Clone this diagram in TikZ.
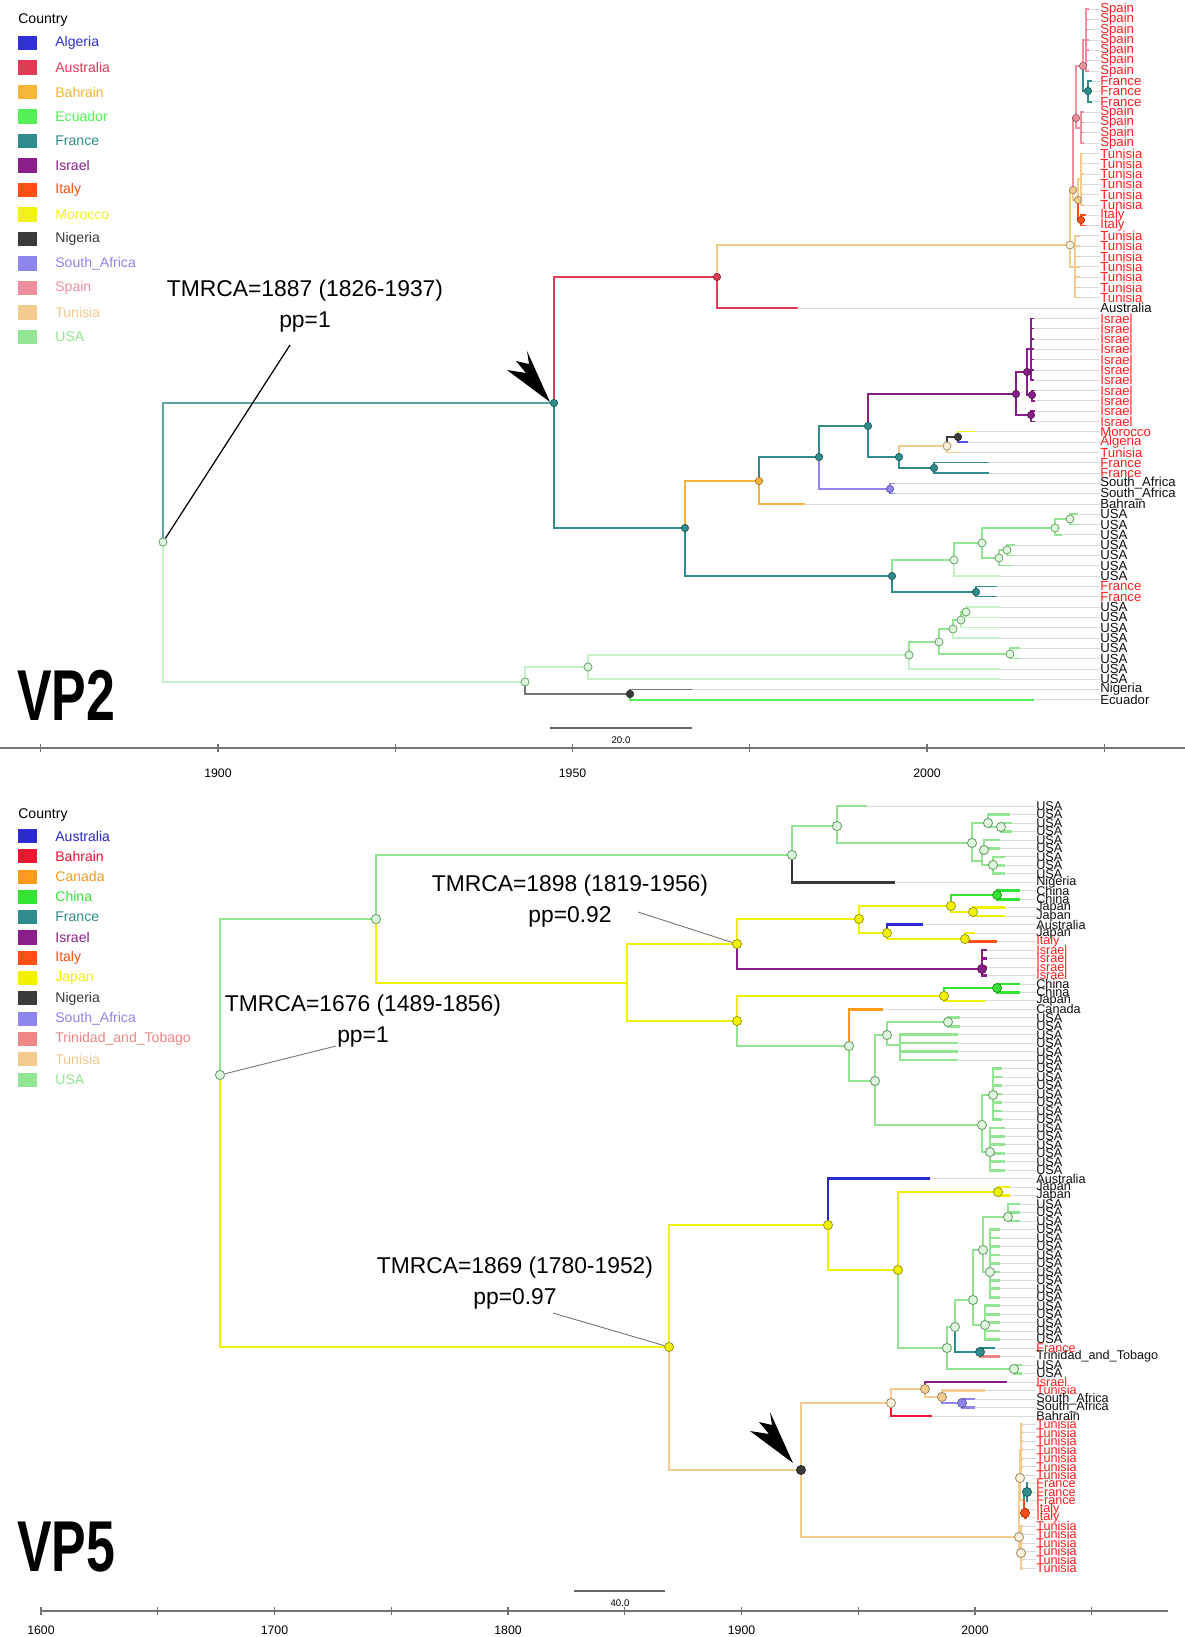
\documentclass[tikz,border=0pt]{standalone}
\usepackage{fontspec}
\setmainfont{Liberation Sans}
\usetikzlibrary{calc}

\definecolor{cUSA}{HTML}{92E592}
\definecolor{cUSAp}{HTML}{C4F2C4}
\definecolor{cFra}{HTML}{2F8C8C}
\definecolor{cAus}{HTML}{E23A55}
\definecolor{cTun}{HTML}{F3CB8E}
\definecolor{cSpa}{HTML}{EE8FA0}
\definecolor{cIsr}{HTML}{8A1E8A}
\definecolor{cIta}{HTML}{FF4F14}
\definecolor{cMor}{HTML}{F2F21A}
\definecolor{cNig}{HTML}{3A3A3A}
\definecolor{cSAf}{HTML}{8F85EE}
\definecolor{cBah}{HTML}{F7B53A}
\definecolor{cAlg}{HTML}{3030D8}
\definecolor{cEcu}{HTML}{55F055}
\definecolor{cJap}{HTML}{F2F200}
\definecolor{cChi}{HTML}{33E533}
\definecolor{cCan}{HTML}{FF9A1A}
\definecolor{cAusB}{HTML}{2A2AD0}
\definecolor{cBahB}{HTML}{EE1530}
\definecolor{cTri}{HTML}{F08585}
\definecolor{lr}{HTML}{FF1F1F}
\definecolor{lk}{HTML}{111111}

\newcommand{\br}[3]{\draw[#1] (#2) |- (#3);}
\newcommand{\tipa}[4]{%
  \coordinate (ae#3) at (#4,{ya(#3)});
  \draw[tipln] (ae#3) -- (at#3.west);
  \draw[brA=#1] (#2) |- (ae#3);}
\newcommand{\tipb}[4]{%
  \coordinate (be#3) at (#4,{yb(#3)});
  \draw[tipln] (be#3) -- (bt#3.west);
  \draw[brB=#1] (#2) |- (be#3);}
\newcommand{\comba}[5]{\foreach \i in {#3,...,#4} {\tipa{#1}{#2}{\i}{#5}}}
\newcommand{\combb}[5]{\foreach \i in {#3,...,#4} {\tipb{#1}{#2}{\i}{#5}}}
\newcommand{\labsa}[4]{\foreach \i in {#1,...,#2} {\node[tla,text=#4] (at\i) at (1100,{ya(\i)}) {#3};}}
\newcommand{\labsb}[4]{\foreach \i in {#1,...,#2} {\node[tlb,text=#4] (bt\i) at (1036,{yb(\i)}) {#3};}}
\newcommand{\arrowhd}[1]{\fill[black] (#1) -- +(-43,-32) -- +(-24,-29) -- +(-34,-41) -- +(-21,-38) -- +(-23,-51) -- cycle;}

\begin{document}
\begin{tikzpicture}[x=0.02cm,y=-0.02cm,
    declare function={ya(\k)=9+\k*10.31; yb(\k)=806+\k*8.47;},
    brA/.style={draw=#1,line width=0.85pt},
    brB/.style={draw=#1,line width=1.5pt},
    tipln/.style={draw=black!14,line width=0.4pt},
    mk/.style={circle,draw=#1!60!black,fill=#1,line width=0.35pt,inner sep=0pt,minimum size=4.2pt},
    mko/.style={circle,draw=#1!70!black,fill=#1!30,line width=0.45pt,inner sep=0pt,minimum size=4.6pt},
    mkb/.style={circle,draw=#1!60!black,fill=#1,line width=0.4pt,inner sep=0pt,minimum size=5.2pt},
    mkbo/.style={circle,draw=#1!70!black,fill=#1!30,line width=0.5pt,inner sep=0pt,minimum size=5.2pt},
    tla/.style={anchor=west,inner sep=0pt,font=\fontsize{7.5}{7.5}\selectfont},
    tlb/.style={anchor=west,inner sep=0pt,font=\fontsize{7.2}{7.2}\selectfont},
    lgbox/.style={fill=#1,inner sep=0pt,minimum width=10.8pt,minimum height=8pt},
    lgtxt/.style={anchor=west,inner sep=0pt,font=\fontsize{8}{8}\selectfont},
    note/.style={align=center,inner sep=0pt,font=\fontsize{13}{18}\selectfont},
    panel/.style={anchor=base west,inner sep=0pt,font=\bfseries\fontsize{41}{41}\selectfont},
    axl/.style={draw=black!55,line width=1.2pt},
    axlab/.style={inner sep=0pt,font=\fontsize{7}{7}\selectfont},
    scl/.style={draw=black!60,line width=0.9pt},
    leadA/.style={draw=black,line width=0.7pt},
    leadB/.style={draw=black!55,line width=0.5pt}]

\fill[white] (0,0) rectangle (1185,1637);
\useasboundingbox (0,0) rectangle (1185,1637);

% legends
\node[lgtxt] (lgA) at (18,20) {Country};
\foreach \lab/\c [count=\i from 0] in {Algeria/cAlg,Australia/cAus,Bahrain/cBah,Ecuador/cEcu,France/cFra,Israel/cIsr,Italy/cIta,Morocco/cMor,Nigeria/cNig,South\_Africa/cSAf,Spain/cSpa,Tunisia/cTun,USA/cUSA}
{
  \node[lgbox=\c] (lbA\i) at (27.5,{43+\i*24.5}) {};
  \node[lgtxt,text=\c] (ltA\i) at (55,{43+\i*24.5}) {\lab};
}
\node[lgtxt] (lgB) at (18,815) {Country};
\foreach \lab/\c [count=\i from 0] in {Australia/cAusB,Bahrain/cBahB,Canada/cCan,China/cChi,France/cFra,Israel/cIsr,Italy/cIta,Japan/cJap,Nigeria/cNig,South\_Africa/cSAf,Trinidad\_and\_Tobago/cTri,Tunisia/cTun,USA/cUSA}
{
  \node[lgbox=\c] (lbB\i) at (27.5,{836+\i*20.3}) {};
  \node[lgtxt,text=\c] (ltB\i) at (55,{836+\i*20.3}) {\lab};
}

% VP2 tip labels
\labsa{0}{6}{Spain}{lr}
\labsa{7}{9}{France}{lr}
\labsa{10}{13}{Spain}{lr}
\labsa{14}{19}{Tunisia}{lr}
\labsa{20}{21}{Italy}{lr}
\labsa{22}{28}{Tunisia}{lr}
\labsa{29}{29}{Australia}{lk}
\labsa{30}{40}{Israel}{lr}
\labsa{41}{41}{Morocco}{lr}
\labsa{42}{42}{Algeria}{lr}
\labsa{43}{43}{Tunisia}{lr}
\labsa{44}{45}{France}{lr}
\labsa{46}{47}{South\_Africa}{lk}
\labsa{48}{48}{Bahrain}{lk}
\labsa{49}{55}{USA}{lk}
\labsa{56}{57}{France}{lr}
\labsa{58}{65}{USA}{lk}
\labsa{66}{66}{Nigeria}{lk}
\labsa{67}{67}{Ecuador}{lk}

% VP5 tip labels
\labsb{0}{8}{USA}{lk}
\labsb{9}{9}{Nigeria}{lk}
\labsb{10}{11}{China}{lk}
\labsb{12}{13}{Japan}{lk}
\labsb{14}{14}{Australia}{lk}
\labsb{15}{15}{Japan}{lk}
\labsb{16}{16}{Italy}{lr}
\labsb{17}{20}{Israel}{lr}
\labsb{21}{22}{China}{lk}
\labsb{23}{23}{Japan}{lk}
\labsb{24}{24}{Canada}{lk}
\labsb{25}{43}{USA}{lk}
\labsb{44}{44}{Australia}{lk}
\labsb{45}{46}{Japan}{lk}
\labsb{47}{63}{USA}{lk}
\labsb{64}{64}{France}{lr}
\labsb{65}{65}{Trinidad\_and\_Tobago}{lk}
\labsb{66}{67}{USA}{lk}
\labsb{68}{68}{Israel}{lr}
\labsb{69}{69}{Tunisia}{lr}
\labsb{70}{71}{South\_Africa}{lk}
\labsb{72}{72}{Bahrain}{lk}
\labsb{73}{79}{Tunisia}{lr}
\labsb{80}{82}{France}{lr}
\labsb{83}{84}{Italy}{lr}
\labsb{85}{90}{Tunisia}{lr}

% VP2 tree
\coordinate (A0) at (163,542);
\coordinate (A1) at (554,403);
\coordinate (A2) at (717,277);
\coordinate (A3) at (1070,245);
\coordinate (A4) at (1073,190);
\coordinate (A5) at (1075,267);
\coordinate (A6) at (1076,118);
\coordinate (A6b) at (1081,128);
\coordinate (A7) at (1078,200);
\coordinate (A7b) at (1081,179);
\coordinate (A8) at (1081,220);
\coordinate (A9) at (1083,66);
\coordinate (A9a) at (1086,40);
\coordinate (A9b) at (1088,91);
\coordinate (A10) at (685,528);
\coordinate (A11) at (759,481);
\coordinate (A12) at (819,457);
\coordinate (A13) at (868,426);
\coordinate (A14) at (890,489);
\coordinate (A15) at (1016,394);
\coordinate (A16) at (899,457);
\coordinate (A17) at (1027,372);
\coordinate (A18) at (1031,415);
\coordinate (A19) at (1031,349);
\coordinate (A19b) at (1032,395);
\coordinate (A20) at (892,576);
\coordinate (A21) at (947,446);
\coordinate (A22) at (934,468);
\coordinate (A23) at (958,437);
\coordinate (A24) at (954,560);
\coordinate (A25) at (976,592);
\coordinate (A26) at (982,543);
\coordinate (A27) at (1055,528);
\coordinate (A28) at (1070,519);
\coordinate (A29) at (999,558);
\coordinate (A30) at (1007,550);
\coordinate (A40) at (525,682);
\coordinate (A41) at (588,667);
\coordinate (A42) at (630,694);
\coordinate (A43) at (909,655);
\coordinate (A44) at (939,642);
\coordinate (A45) at (953,629);
\coordinate (A46) at (1010,654);
\coordinate (A47) at (961,620);
\coordinate (A48) at (966,612);

\br{brA=cFra!80!white}{A0}{A1}
\br{brA=cUSAp}{A0}{A40}
\br{brA=cAus}{A1}{A2}
\br{brA=cFra}{A1}{A10}
\br{brA=cTun}{A2}{A3}
\tipa{cAus}{A2}{29}{798}
\br{brA=cTun}{A3}{A4}
\br{brA=cTun}{A3}{A5}
\comba{cTun}{A5}{22}{28}{1080}
\br{brA=cSpa}{A4}{A6}
\br{brA=cTun}{A4}{A7}
\br{brA=cTun}{A7}{A7b}
\comba{cTun}{A7b}{14}{19}{1084}
\br{brA=cIta}{A7}{A8}
\comba{cIta}{A8}{20}{21}{1086}
\br{brA=cSpa}{A6}{A6b}
\comba{cSpa}{A6b}{10}{13}{1084}
\br{brA=cSpa}{A6}{A9}
\br{brA=cSpa}{A9}{A9a}
\comba{cSpa}{A9a}{0}{6}{1089}
\br{brA=cFra}{A9}{A9b}
\comba{cFra}{A9b}{7}{9}{1092}
\br{brA=cBah}{A10}{A11}
\br{brA=cFra}{A10}{A20}
\br{brA=cFra}{A11}{A12}
\tipa{cBah}{A11}{48}{805}
\br{brA=cFra}{A12}{A13}
\br{brA=cSAf}{A12}{A14}
\comba{cSAf}{A14}{46}{47}{895}
\br{brA=cIsr}{A13}{A15}
\br{brA=cFra}{A13}{A16}
\br{brA=cIsr}{A15}{A17}
\br{brA=cIsr}{A15}{A18}
\comba{cIsr}{A18}{39}{40}{1035}
\br{brA=cIsr}{A17}{A19}
\br{brA=cIsr}{A17}{A19b}
\comba{cIsr}{A19}{30}{36}{1034}
\comba{cIsr}{A19b}{37}{38}{1035}
\br{brA=cTun}{A16}{A21}
\br{brA=cFra}{A16}{A22}
\comba{cFra}{A22}{44}{45}{989}
\br{brA=cNig}{A21}{A23}
\tipa{cTun}{A21}{43}{960}
\tipa{cMor}{A23}{41}{975}
\tipa{cAlg!60!cSAf}{A23}{42}{968}
\br{brA=cUSA}{A20}{A24}
\br{brA=cFra}{A20}{A25}
\comba{cFra}{A25}{56}{57}{997}
\br{brA=cUSA}{A24}{A26}
\tipa{cUSAp}{A24}{55}{1000}
\br{brA=cUSA}{A26}{A27}
\br{brA=cUSA}{A26}{A29}
\br{brA=cUSA}{A27}{A28}
\tipa{cUSA}{A27}{51}{1062}
\comba{cUSA}{A28}{49}{50}{1078}
\br{brA=cUSA}{A29}{A30}
\tipa{cUSA}{A29}{54}{1012}
\comba{cUSA}{A30}{52}{53}{1015}
\br{brA=cUSAp}{A40}{A41}
\br{brA=cNig!70!white}{A40}{A42}
\tipa{cNig!70!white}{A42}{66}{692}
\tipa{cEcu}{A42}{67}{1034}
\br{brA=cUSAp}{A41}{A43}
\tipa{cUSAp}{A41}{65}{1000}
\br{brA=cUSA}{A43}{A44}
\tipa{cUSAp}{A43}{64}{1000}
\br{brA=cUSA}{A44}{A45}
\br{brA=cUSA}{A44}{A46}
\comba{cUSA}{A46}{62}{63}{1020}
\br{brA=cUSA}{A45}{A47}
\tipa{cUSAp}{A45}{61}{1000}
\br{brA=cUSA}{A47}{A48}
\tipa{cUSAp}{A47}{60}{1000}
\comba{cUSAp}{A48}{58}{59}{1000}

\foreach \n/\c in {A1/cFra,A2/cAus,A4/cTun,A6/cSpa,A7/cTun,A8/cIta,A9/cSpa,A9b/cFra,A10/cFra,A11/cBah,A12/cFra,A13/cFra,A14/cSAf,A15/cIsr,A16/cFra,A17/cIsr,A18/cIsr,A19b/cIsr,A20/cFra,A22/cFra,A23/cNig,A25/cFra,A42/cNig}
  \node[mk=\c] (m\n) at (\n) {};
\foreach \n/\c in {A0/cUSA,A3/cTun,A21/cTun,A24/cUSA,A26/cUSA,A27/cUSA,A28/cUSA,A29/cUSA,A30/cUSA,A40/cUSA,A41/cUSA,A43/cUSA,A44/cUSA,A45/cUSA,A46/cUSA,A47/cUSA,A48/cUSA}
  \node[mko=\c] (m\n) at (\n) {};

% VP5 tree
\coordinate (B0) at (220,1075);
\coordinate (BA) at (376,919);
\coordinate (B1) at (669,1347);
\coordinate (B2) at (792,855);
\coordinate (B3) at (627,983);
\coordinate (B4) at (837,826);
\coordinate (B5) at (972,843);
\coordinate (B6) at (988,823);
\coordinate (B6b) at (1001,827);
\coordinate (B7) at (982,861);
\coordinate (B7a) at (984,850);
\coordinate (B7b) at (993,865);
\coordinate (B8) at (737,944);
\coordinate (B9) at (737,1021);
\coordinate (B10) at (859,919);
\coordinate (B11) at (982,969);
\coordinate (B12) at (951,906);
\coordinate (B13) at (887,933);
\coordinate (B14) at (997,895);
\coordinate (B15) at (973,912);
\coordinate (B16) at (965,939);
\coordinate (B17) at (944,996);
\coordinate (B18) at (849,1046);
\coordinate (B19) at (997,988);
\coordinate (B20) at (875,1081);
\coordinate (B21) at (887,1035);
\coordinate (B22) at (982,1125);
\coordinate (B23) at (948,1022);
\coordinate (B24) at (900,1045);
\coordinate (B25) at (993,1095);
\coordinate (B26) at (990,1152);
\coordinate (B30) at (828,1225);
\coordinate (B31) at (898,1270);
\coordinate (B32) at (998,1192);
\coordinate (B33) at (947,1348);
\coordinate (B34) at (955,1327);
\coordinate (B35) at (1014,1369);
\coordinate (B36) at (973,1300);
\coordinate (B37) at (980,1352);
\coordinate (B38) at (983,1250);
\coordinate (B38a) at (1008,1217);
\coordinate (B38b) at (990,1272);
\coordinate (B39) at (985,1325);
\coordinate (B40) at (801,1470);
\coordinate (B41) at (891,1403);
\coordinate (B42) at (1019,1537);
\coordinate (B43) at (925,1389);
\coordinate (B44) at (942,1397);
\coordinate (B45) at (962,1403);
\coordinate (B46) at (1020,1478);
\coordinate (B46a) at (1021,1450);
\coordinate (B47) at (1021,1553);
\coordinate (B48) at (1024,1500);
\coordinate (B48a) at (1027,1492);
\coordinate (B49) at (1025,1513);

\br{brB=cUSA}{B0}{BA}
\br{brB=cJap}{B0}{B1}
\br{brB=cUSA}{BA}{B2}
\br{brB=cJap}{BA}{B3}
\br{brB=cUSA}{B2}{B4}
\tipb{cNig}{B2}{9}{895}
\tipb{cUSA}{B4}{0}{867}
\br{brB=cUSA}{B4}{B5}
\br{brB=cUSA}{B5}{B6}
\tipb{cUSA}{B6}{1}{1010}
\br{brB=cUSA}{B6}{B6b}
\combb{cUSA}{B6b}{2}{3}{1012}
\br{brB=cUSA}{B5}{B7}
\br{brB=cUSA}{B7}{B7a}
\combb{cUSA}{B7a}{4}{5}{1000}
\br{brB=cUSA}{B7}{B7b}
\combb{cUSA}{B7b}{6}{8}{1005}
\br{brB=cJap}{B3}{B8}
\br{brB=cJap}{B3}{B9}
\br{brB=cJap}{B8}{B10}
\br{brB=cIsr}{B8}{B11}
\combb{cIsr}{B11}{17}{20}{987}
\br{brB=cJap}{B10}{B12}
\br{brB=cJap}{B10}{B13}
\br{brB=cChi}{B12}{B14}
\combb{cChi}{B14}{10}{11}{1020}
\br{brB=cJap}{B12}{B15}
\combb{cJap}{B15}{12}{13}{1005}
\tipb{cAusB}{B13}{14}{923}
\br{brB=cJap}{B13}{B16}
\tipb{cJap}{B16}{15}{975}
\tipb{cIta}{B16}{16}{997}
\br{brB=cJap}{B9}{B17}
\br{brB=cUSA}{B9}{B18}
\br{brB=cChi}{B17}{B19}
\combb{cChi}{B19}{21}{22}{1020}
\tipb{cJap}{B17}{23}{985}
\tipb{cCan}{B18}{24}{883}
\br{brB=cUSA}{B18}{B20}
\br{brB=cUSA}{B20}{B21}
\br{brB=cUSA}{B20}{B22}
\br{brB=cUSA}{B21}{B23}
\combb{cUSA}{B23}{25}{26}{960}
\br{brB=cUSA}{B21}{B24}
\combb{cUSA}{B24}{27}{30}{958}
\br{brB=cUSA}{B22}{B25}
\combb{cUSA}{B25}{31}{37}{1002}
\br{brB=cUSA}{B22}{B26}
\combb{cUSA}{B26}{38}{43}{1005}
\br{brB=cJap}{B1}{B30}
\br{brB=cTun}{B1}{B40}
\tipb{cAusB}{B30}{44}{930}
\br{brB=cJap}{B30}{B31}
\br{brB=cJap}{B31}{B32}
\combb{cJap}{B32}{45}{46}{1010}
\br{brB=cUSA}{B31}{B33}
\br{brB=cUSA}{B33}{B34}
\br{brB=cUSA}{B33}{B35}
\combb{cUSA}{B35}{66}{67}{1022}
\br{brB=cUSA}{B34}{B36}
\br{brB=cFra}{B34}{B37}
\tipb{cFra}{B37}{64}{995}
\tipb{cTri}{B37}{65}{1000}
\br{brB=cUSA}{B36}{B38}
\br{brB=cUSA}{B36}{B39}
\br{brB=cUSA}{B38}{B38a}
\combb{cUSA}{B38a}{47}{49}{1020}
\br{brB=cUSA}{B38}{B38b}
\combb{cUSA}{B38b}{50}{58}{1000}
\combb{cUSA}{B39}{59}{63}{1000}
\br{brB=cTun}{B40}{B41}
\br{brB=cTun}{B40}{B42}
\br{brB=cTun}{B41}{B43}
\tipb{cBahB}{B41}{72}{932}
\tipb{cIsr}{B43}{68}{1007}
\br{brB=cTun}{B43}{B44}
\tipb{cTun}{B44}{69}{985}
\br{brB=cSAf}{B44}{B45}
\combb{cSAf}{B45}{70}{71}{975}
\br{brB=cTun}{B42}{B46}
\br{brB=cTun}{B42}{B47}
\br{brB=cTun}{B46}{B46a}
\combb{cTun}{B46a}{73}{79}{1023}
\br{brB=cTun}{B46}{B48}
\br{brB=cFra}{B48}{B48a}
\combb{cFra}{B48a}{80}{82}{1028}
\br{brB=cIta}{B48}{B49}
\combb{cIta}{B49}{83}{84}{1027}
\combb{cTun}{B47}{85}{90}{1023}

\foreach \n/\c in {B1/cJap,B8/cJap,B9/cJap,B10/cJap,B11/cIsr,B12/cJap,B13/cJap,B14/cChi,B15/cJap,B16/cJap,B17/cJap,B19/cChi,B30/cJap,B31/cJap,B32/cJap,B37/cFra,B40/cNig,B43/cTun,B44/cTun,B45/cSAf,B48a/cFra,B49/cIta}
  \node[mkb=\c] (m\n) at (\n) {};
\foreach \n/\c in {B0/cUSA,BA/cUSA,B2/cUSA,B4/cUSA,B5/cUSA,B6/cUSA,B6b/cUSA,B7a/cUSA,B7b/cUSA,B18/cUSA,B20/cUSA,B21/cUSA,B22/cUSA,B23/cUSA,B25/cUSA,B26/cUSA,B33/cUSA,B34/cUSA,B35/cUSA,B36/cUSA,B38/cUSA,B38a/cUSA,B38b/cUSA,B39/cUSA,B41/cTun,B42/cTun,B46/cTun,B47/cTun}
  \node[mkbo=\c] (m\n) at (\n) {};

% notes and arrows
\node[note] (naA) at (305,306) {TMRCA=1887 (1826-1937)\\pp=1};
\coordinate (laA) at (290,345);
\draw[leadA] (laA) -- (mA0);
\node[note] (naB) at (570,901) {TMRCA=1898 (1819-1956)\\pp=0.92};
\coordinate (laB) at (638,912);
\draw[leadB] (laB) -- (mB8);
\node[note] (naC) at (363,1021) {TMRCA=1676 (1489-1856)\\pp=1};
\coordinate (laC) at (336,1046);
\draw[leadB] (laC) -- (mB0);
\node[note] (naD) at (515,1283) {TMRCA=1869 (1780-1952)\\pp=0.97};
\coordinate (laD) at (553,1313);
\draw[leadB] (laD) -- (mB1);

\coordinate (arA) at (550,402);
\arrowhd{arA}
\coordinate (arB) at (793,1463);
\arrowhd{arB}

\node[panel] (vpA) at (17,720) {\scalebox{0.72}[1]{VP2}};
\node[panel] (vpB) at (17,1571) {\scalebox{0.72}[1]{VP5}};

% axes
\coordinate (sbA1) at (550,728);
\coordinate (sbA2) at (692,728);
\draw[scl] (sbA1) -- (sbA2);
\node[axlab,font=\fontsize{5.5}{5.5}\selectfont] (sbAt) at (621,740) {20.0};
\draw[axl] (0,748) -- (1185,748);
\foreach \yr in {1875,1900,...,2025}
  \draw[axl,line width=0.7pt] ({218+(\yr-1900)*7.09},744) -- ++(0,8);
\foreach \yr in {1900,1950,2000}
  \node[axlab] (txA\yr) at ({218+(\yr-1900)*7.09},773) {\yr};

\coordinate (sbB1) at (574,1591);
\coordinate (sbB2) at (665,1591);
\draw[scl] (sbB1) -- (sbB2);
\node[axlab,font=\fontsize{5.5}{5.5}\selectfont] (sbBt) at (620,1603) {40.0};
\draw[axl] (40,1611) -- (1168,1611);
\foreach \yr in {1600,1650,...,2050}
  \draw[axl,line width=0.7pt] ({41+(\yr-1600)*2.335},1607) -- ++(0,8);
\foreach \yr in {1600,1700,...,2000}
  \node[axlab] (txB\yr) at ({41+(\yr-1600)*2.335},1630) {\yr};
\end{tikzpicture}
\end{document}
